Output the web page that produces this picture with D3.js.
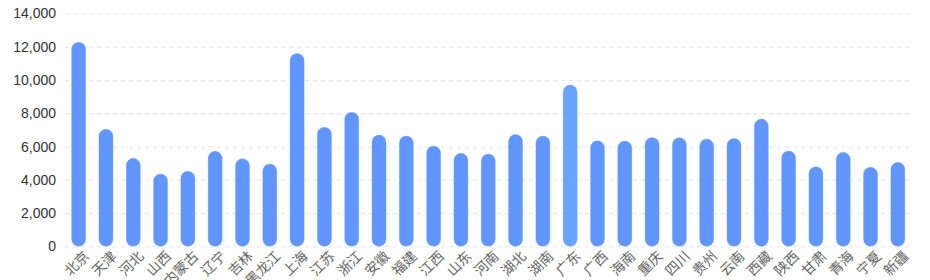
<!DOCTYPE html>
<html>
<head>
<meta charset="utf-8">
<script src="https://cdn.jsdelivr.net/npm/d3@7"></script>
<style>
  body { margin: 0; background: #fff; }
  text { font-family: "Liberation Sans", "Noto Sans CJK SC", sans-serif; }
  .x-label { font-family: "Noto Sans CJK SC", sans-serif; }
</style>
</head>
<body>
<svg width="930" height="280"></svg>
<script>
  const provinces = ['北京', '天津', '河北', '山西', '内蒙古', '辽宁', '吉林', '黑龙江', '上海', '江苏',
    '浙江', '安徽', '福建', '江西', '山东', '河南', '湖北', '湖南', '广东', '广西',
    '海南', '重庆', '四川', '贵州', '云南', '西藏', '陕西', '甘肃', '青海', '宁夏', '新疆'];
  const values = [12270, 7040, 5290, 4350, 4510, 5710, 5270, 4950, 11600, 7160,
    8060, 6690, 6630, 6030, 5590, 5550, 6730, 6630, 9700, 6350,
    6330, 6550, 6530, 6450, 6490, 7650, 5730, 4790, 5650, 4750, 5050];
  const yTicks = [0, 2000, 4000, 6000, 8000, 10000, 12000, 14000];
  const highlighted = '广东';

  const data = provinces.map((name, i) => ({ name, value: values[i] }));

  const svg = d3.select('svg');
  const margin = { top: 13.5, right: 18.5, bottom: 33.7, left: 65 };
  const width = +svg.attr('width');
  const height = +svg.attr('height');
  const innerWidth = width - margin.left - margin.right;
  const innerHeight = height - margin.top - margin.bottom;

  const g = svg.append('g')
    .attr('transform', `translate(${margin.left}, ${margin.top})`);

  const xScale = d3.scaleBand()
    .domain(provinces)
    .range([0, innerWidth]);

  const yScale = d3.scaleLinear()
    .domain([0, 14000])
    .range([innerHeight, 0]);

  // grid + y labels
  const yAxis = d3.axisLeft(yScale)
    .tickValues(yTicks)
    .tickSize(-innerWidth)
    .tickPadding(9)
    .tickFormat(d3.format(','));

  const yAxisG = g.append('g').call(yAxis);
  yAxisG.select('.domain').remove();
  yAxisG.selectAll('line')
    .attr('stroke', '#e1e4ef')
    .attr('stroke-dasharray', '4,4');
  yAxisG.selectAll('text')
    .attr('fill', '#333')
    .attr('font-size', 14);

  // x labels, rotated
  const xAxis = d3.axisBottom(xScale).tickSize(0).tickPadding(0);
  const xAxisG = g.append('g')
    .attr('transform', `translate(0, ${innerHeight})`)
    .call(xAxis);
  xAxisG.select('.domain').remove();
  xAxisG.selectAll('text')
    .attr('class', 'x-label')
    .attr('fill', '#666')
    .attr('font-size', 14)
    .attr('text-anchor', 'end')
    .attr('y', 0)
    .attr('dy', 0)
    .attr('transform', 'translate(11.5, 10.7) rotate(-45)');

  // bars
  const barWidth = 14;
  g.selectAll('rect.bar').data(data)
    .enter().append('rect')
    .attr('class', 'bar')
    .attr('x', d => xScale(d.name) + xScale.bandwidth() / 2 - barWidth / 2)
    .attr('y', d => yScale(d.value))
    .attr('width', barWidth)
    .attr('height', d => innerHeight - yScale(d.value))
    .attr('rx', barWidth / 2)
    .attr('ry', barWidth / 2)
    .attr('fill', d => d.name === highlighted ? '#69a5ff' : '#6196ff')
    .attr('stroke', 'rgba(97,150,255,0.3)')
    .attr('stroke-width', 1);
</script>
</body>
</html>
